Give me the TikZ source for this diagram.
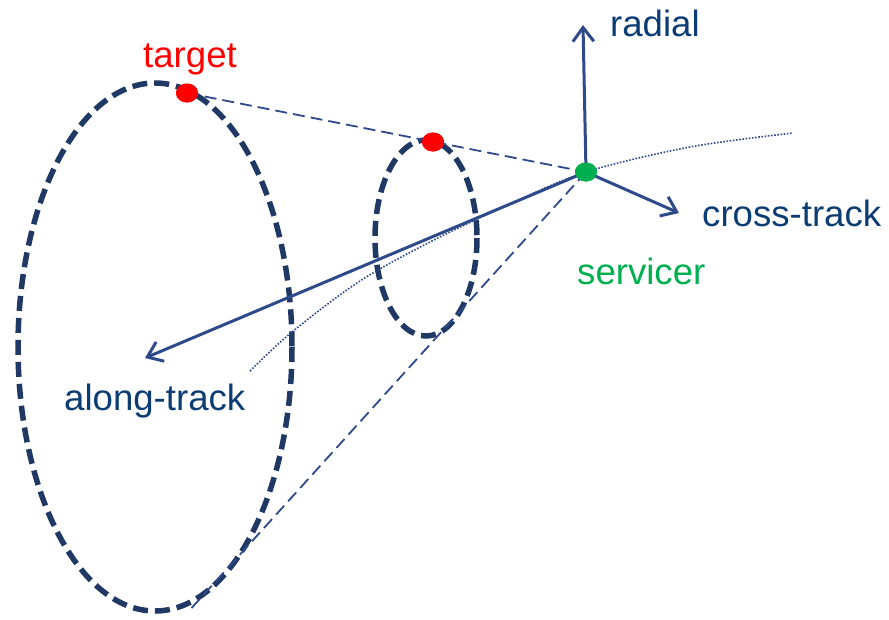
\documentclass[tikz,border=0pt]{standalone}
\usepackage{fontspec}
\setmainfont{Liberation Sans}
\usetikzlibrary{arrows.meta,shapes.geometric}
\definecolor{ringblue}{HTML}{1F3864}
\definecolor{axisblue}{HTML}{2E4A8B}
\definecolor{labelblue}{HTML}{0B3C74}
\definecolor{tgtred}{HTML}{FF0000}
\definecolor{srvgreen}{HTML}{00B050}
\tikzset{
  ring/.style={draw=ringblue, line width=5.5pt, dash pattern=on 15pt off 7pt},
  sightline/.style={draw=axisblue, line width=1.8pt, dash pattern=on 12pt off 6pt},
  trackline/.style={draw=axisblue, line width=1.6pt, dash pattern=on 1.6pt off 1.6pt},
  axisarrow/.style={draw=axisblue, line width=3pt, -{Straight Barb[length=14pt,width=21pt,line width=3pt]}},
  dot/.style={ellipse, inner sep=0pt, minimum width=22pt, minimum height=19pt},
  lbl/.style={font=\fontsize{36.6}{44}\selectfont, inner sep=0pt, anchor=base west},
}
\begin{document}
\begin{tikzpicture}[x=1pt, y=-1pt]
\useasboundingbox (0,0) rectangle (889,619);

% relative-motion ellipses
\draw[ring] (155,347) ellipse [x radius=137, y radius=264];
\draw[ring] (426,238) ellipse [x radius=51, y radius=98];

% positions on the ellipses and the servicer
\node[dot, fill=tgtred] (tgtA) at (187,93) {};
\node[dot, fill=tgtred] (tgtB) at (433,142) {};
\node[dot, fill=srvgreen] (srv) at (586,172) {};
\coordinate (lowA) at (188,612);

% lines of sight
\draw[sightline] (tgtA.center) -- (srv.center);
\draw[sightline] (srv.center) -- (lowA);

% orbit track
\draw[trackline] plot[smooth, tension=0.55] coordinates {(250,371) (292,332) (360,281) (432,241) (510,204) (586,172) (690,147) (793,133)};

% local frame
\coordinate (radTip) at (583,25);
\coordinate (crossTip) at (679,213);
\coordinate (alongTip) at (145,358);
\draw[axisarrow] (srv.center) -- (radTip);
\draw[axisarrow] (srv.center) -- (crossTip);
\draw[axisarrow] (srv.center) -- (alongTip);

% redraw dots on top
\node[dot, fill=tgtred] at (tgtA) {};
\node[dot, fill=tgtred] at (tgtB) {};
\node[dot, fill=srvgreen] at (srv) {};

% labels
\node[lbl, text=tgtred] (ltarget) at (143,67) {target};
\node[lbl, text=labelblue] (lradial) at (610,36) {radial};
\node[lbl, text=labelblue] (lcross) at (702,226) {cross-track};
\node[lbl, text=srvgreen] (lsrv) at (577,284) {servicer};
\node[lbl, text=labelblue] (lalong) at (64,410) {along-track};
\end{tikzpicture}
\end{document}
